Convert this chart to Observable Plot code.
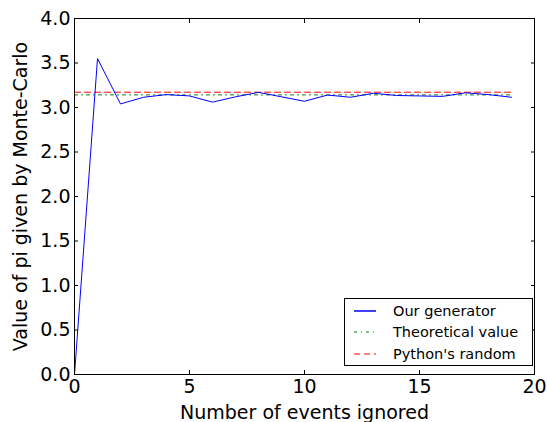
<!DOCTYPE html>
<html><head><meta charset="utf-8">
<script src="https://cdn.jsdelivr.net/npm/d3@7"></script>
<script src="https://cdn.jsdelivr.net/npm/@observablehq/plot@0.6"></script>
<style>
body{margin:0;background:#fff;font-family:"DejaVu Sans",sans-serif}
#wrap{position:relative;width:547px;height:422px}
.legend{position:absolute;left:344px;top:298px;width:189px;height:68px;border:1px solid #000;background:#fff;box-sizing:border-box;padding-top:1px;font-size:14.5px;color:#000}
.legend .row{display:flex;align-items:center;height:21.5px}
.legend svg{margin-left:9px;flex:none}
.legend span{margin-left:17px;white-space:nowrap}
</style></head><body><div id="wrap"></div>
<script>
const events = [0,1,2,3,4,5,6,7,8,9,10,11,12,13,14,15,16,17,18,19];
const ourGenerator = [0,3.55,3.04,3.115,3.145,3.13,3.06,3.12,3.17,3.12,3.07,3.14,3.115,3.16,3.135,3.13,3.125,3.165,3.145,3.115];
const theoreticalValue = 3.14159;
const pythonRandom = 3.172;
const xTicks = [0,5,10,15,20];
const yTicks = [0,0.5,1,1.5,2,2.5,3,3.5,4];
const seriesNames = ["Our generator","Theoretical value","Python's random"];
const seriesColors = ["#0000ff","#008000","#ff0000"];
const seriesDash = [null,"3,4,1,4","6,4"];

const ourRows = events.map((e,i)=>({x:e,y:ourGenerator[i]}));
const theoRows = events.map(e=>({x:e,y:theoreticalValue}));
const pyRows = events.map(e=>({x:e,y:pythonRandom}));

const chart = Plot.plot({
  width:547, height:422,
  marginLeft:74, marginRight:13, marginTop:18, marginBottom:48,
  style:{fontFamily:"DejaVu Sans", fontSize:"19px", background:"white", color:"black", overflow:"visible"},
  x:{domain:[0,20]},
  y:{domain:[0,4]},
  marks:[
    Plot.line(pyRows,{x:"x",y:"y",stroke:seriesColors[2],strokeWidth:1,strokeDasharray:seriesDash[2]}),
    Plot.line(theoRows,{x:"x",y:"y",stroke:seriesColors[1],strokeWidth:1,strokeDasharray:seriesDash[1]}),
    Plot.line(ourRows,{x:"x",y:"y",stroke:seriesColors[0],strokeWidth:1}),
    Plot.axisX(xTicks,{anchor:"bottom",tickSize:-4,tickPadding:9,tickFormat:d=>String(d),label:"Number of events ignored",labelAnchor:"center",labelOffset:44,labelArrow:"none"}),
    Plot.axisX(xTicks,{anchor:"top",tickSize:-4,tickFormat:()=>"",label:null}),
    Plot.axisY(yTicks,{anchor:"left",tickSize:-4,tickPadding:8,tickFormat:d=>d.toFixed(1),label:"Value of pi given by Monte-Carlo",labelAnchor:"center",labelOffset:61,labelArrow:"none"}),
    Plot.axisY(yTicks,{anchor:"right",tickSize:-4,tickFormat:()=>"",label:null}),
    Plot.frame({stroke:"black",strokeWidth:1})
  ]
});
const wrap = document.getElementById("wrap");
wrap.appendChild(chart);

const legend = document.createElement("div");
legend.className = "legend";
seriesNames.forEach((name,i)=>{
  const row = document.createElement("div");
  row.className = "row";
  const dash = seriesDash[i] ? `stroke-dasharray="${seriesDash[i]}"` : "";
  row.innerHTML = `<svg width="22" height="4"><line x1="0" y1="2" x2="22" y2="2" stroke="${seriesColors[i]}" stroke-width="${i===0?1.5:1}" ${dash}/></svg><span>${name}</span>`;
  legend.appendChild(row);
});
wrap.appendChild(legend);
</script>
</body></html>
